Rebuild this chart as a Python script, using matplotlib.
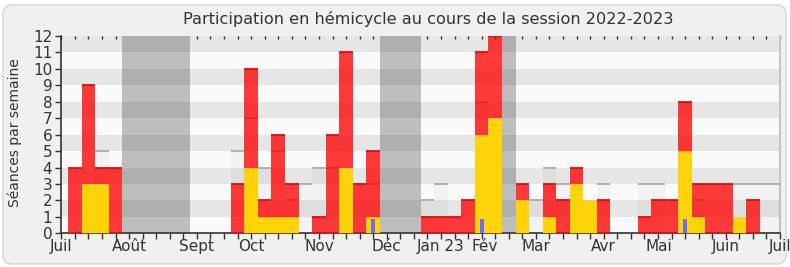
import matplotlib
matplotlib.use('Agg')
import matplotlib.pyplot as plt
from matplotlib.patches import FancyBboxPatch

# ---- data (week index 0..53, starting early July 2022) ----
weeks = list(range(54))
presence = [0, 4, 9, 4, 4, 0, 0, 0, 0, 0,
            0, 0, 0, 3, 10, 2, 6, 3, 0, 1,
            6, 11, 3, 5, 0, 0, 0, 1, 1, 1,
            2, 11, 12, 0, 3, 0, 3, 2, 4, 0,
            2, 0, 0, 1, 2, 2, 8, 3, 3, 3,
            0, 2, 0, 0]
interventions = [0, 0, 3, 3, 0, 0, 0, 0, 0, 0,
                 0, 0, 0, 0, 4, 1, 1, 1, 0, 0,
                 0, 4, 0, 1, 0, 0, 0, 0, 0, 0,
                 0, 6, 7, 0, 2, 0, 1, 0, 3, 2,
                 0, 0, 0, 0, 0, 0, 5, 1, 0, 0,
                 1, 0, 0, 0]
questions = [0] * 23 + [0.85] + [0] * 7 + [0.85] + [0] * 14 + [0.85] + [0] * 7
total = [0, 0, 0, 5, 0, 0, 0, 0, 0, 0,
         0, 0, 0, 5, 7, 4, 5, 2, 3, 4,
         4, 0, 3, 3, 0, 0, 0, 2, 3, 0,
         0, 8, 0, 0, 0, 2, 4, 3, 0, 0,
         3, 0, 0, 3, 3, 0, 0, 2, 0, 0,
         3, 3, 3, 3]
vacances = [(5, 9), (24, 26), (33, 33)]
month_labels = ['Juil', 'Août', 'Sept', 'Oct', 'Nov', 'Déc', 'Jan 23', 'Fév',
                'Mar', 'Avr', 'Mai', 'Juin', 'Juil']
month_pos = [0, 5, 10, 14, 19, 24, 28, 31.2, 35, 40, 44.1, 49, 53]
yticks = list(range(13))

W, H = 790, 267
fig = plt.figure(figsize=(W / 100, H / 100), dpi=100)
fig.patch.set_facecolor('white')
fig.patches.append(FancyBboxPatch((3 / W, 3 / H), 783 / W, 259 / H,
                                  boxstyle='round,pad=0,rounding_size=0.012',
                                  mutation_aspect=W / H,
                                  transform=fig.transFigure, fc='#f0f0f0',
                                  ec='#dadada', lw=1.2, zorder=-10))

ax = fig.add_axes([61.3 / W, 1 - 233.3 / H, (780 - 61.3) / W, (233.3 - 36) / H])
ax.set_zorder(1)
ax.set_facecolor('#fafafa')
ax.set_xlim(0, 53)
ax.set_ylim(0, 12)

for a, b in vacances:
    ax.axvspan(a - 0.5, b + 0.5, color='#bebebe', lw=0, zorder=1)
for y in range(1, 12, 2):
    ax.axhspan(y, y + 1, color='black', alpha=0.08, lw=0, zorder=2)

# total sessions (grey)
ax.bar(weeks, total, width=1, color='black', alpha=0.03, lw=0, zorder=3)
tw = [w for w, t in zip(weeks, total) if t > 0]
tv = [t for t in total if t > 0]
ax.hlines(tv, [w - 0.5 for w in tw], [w + 0.5 for w in tw], color='#ababab', lw=1.3, zorder=3)

# presence (red)
ax.bar(weeks, presence, width=1, color='#ff0000', alpha=0.77, lw=0, zorder=4)
pw = [w for w, p in zip(weeks, presence) if p > 0]
pv = [p for p in presence if p > 0]
ax.hlines(pv, [w - 0.5 for w in pw], [w + 0.5 for w in pw], color='#ff0000', lw=1.3, zorder=4)

# interventions (yellow)
ax.bar(weeks, interventions, width=1, color='#ffd30a', lw=0, zorder=5)
# questions (blue)
ax.bar(weeks, questions, width=0.32, color='#6b6bff', lw=0, zorder=6)

ax.spines['top'].set_visible(False)
ax.spines['right'].set_color('#c4c4c4')
ax.spines['right'].set_linewidth(1.5)
for s in ['left', 'bottom']:
    ax.spines[s].set_color('#333333')
    ax.spines[s].set_linewidth(1.2)

ax.xaxis.remove_overlapping_locs = False
ax.set_xticks(month_pos)
ax.set_xticklabels(month_labels)
ax.set_xticks(weeks, minor=True)
ax.tick_params(axis='x', which='major', length=0, pad=4, labelsize=11, labelcolor='#333333')
ax.tick_params(axis='x', which='minor', length=4.5, width=1, color='#333333')
ax.set_yticks(yticks)
ax.tick_params(axis='y', length=4.5, width=1, color='#333333', pad=2, labelsize=11,
               labelcolor='#333333')

sec = ax.secondary_xaxis('top')
sec.set_xticks(weeks)
sec.tick_params(direction='in', length=2, width=1, color='#333333', labeltop=False)
sec.spines['top'].set_visible(False)

fig.text(428 / W, 1 - 19 / H, 'Participation en hémicycle au cours de la session 2022-2023',
         ha='center', va='center', fontsize=11.6, color='#333333')
fig.text(15 / W, 1 - 133 / H, 'Séances par semaine', rotation=90, ha='center', va='center',
         fontsize=10, color='#333333')

fig.savefig('out.png', dpi=100, facecolor=fig.get_facecolor())
